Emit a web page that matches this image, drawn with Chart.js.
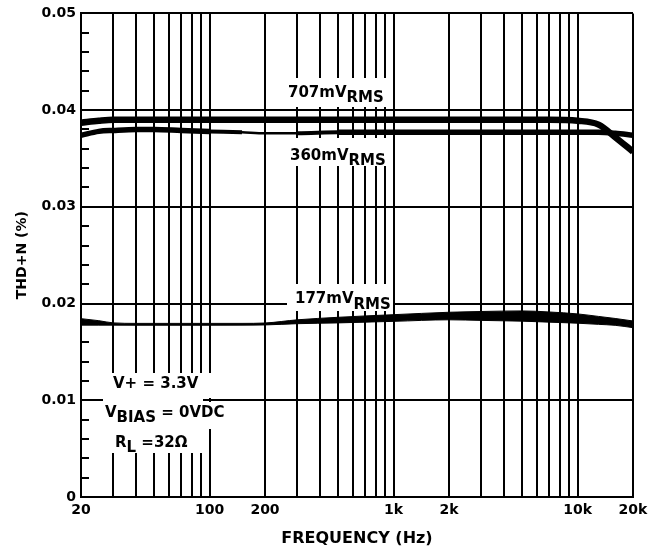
<!DOCTYPE html>
<html>
<head>
<meta charset="utf-8">
<script src="https://cdn.jsdelivr.net/npm/chart.js@4.4.1/dist/chart.umd.min.js"></script>
<style>
  html, body { margin: 0; padding: 0; background: #fff; }
  #wrap { width: 662px; height: 554px; }
</style>
</head>
<body>
<div id="wrap"><canvas id="thdChart"></canvas></div>
<script>
const freqs = [20, 25, 30, 40, 50, 70, 100, 150, 200, 300, 500, 700, 1000, 2000, 3000, 5000, 7000, 10000, 13000, 16000, 20000];

// THD+N (%) per output level
const thd707 = [0.0387, 0.0389, 0.0390, 0.0390, 0.0390, 0.0390, 0.0390, 0.0390, 0.0390, 0.0390, 0.0390, 0.0390, 0.0390, 0.0390, 0.0390, 0.0390, 0.0390, 0.0389, 0.0385, 0.0372, 0.0357];
const thd360 = [0.0374, 0.0378, 0.0379, 0.0380, 0.0380, 0.0379, 0.0378, 0.0377, 0.0376, 0.0376, 0.0377, 0.0377, 0.0377, 0.0377, 0.0377, 0.0377, 0.0377, 0.0377, 0.0377, 0.0376, 0.0374];
// 177mV trace is drawn as a band (its plotted width varies)
const thd177Upper = [0.01844, 0.01823, 0.01800, 0.01795, 0.01795, 0.01795, 0.01795, 0.01795, 0.01799, 0.01832, 0.01858, 0.01872, 0.01885, 0.01910, 0.01918, 0.01924, 0.01913, 0.01893, 0.01867, 0.01846, 0.01820];
const thd177Lower = [0.01777, 0.01777, 0.01777, 0.01776, 0.01776, 0.01776, 0.01776, 0.01777, 0.01779, 0.01792, 0.01800, 0.01808, 0.01816, 0.01832, 0.01826, 0.01818, 0.01808, 0.01797, 0.01785, 0.01775, 0.01751];

// axis ticks
const gridFreqs = [20, 30, 40, 50, 60, 70, 80, 90, 100, 200, 300, 400, 500, 600, 700, 800, 900,
                   1000, 2000, 3000, 4000, 5000, 6000, 7000, 8000, 9000, 10000, 20000];
const freqLabels = {20: '20', 100: '100', 200: '200', 1000: '1k', 2000: '2k', 10000: '10k', 20000: '20k'};
const thdMin = 0, thdMax = 0.05, thdStep = 0.002, thdMajor = 0.01;

const FONT = 'DejaVu Sans';
const toPoints = ys => freqs.map((f, i) => ({x: f, y: ys[i]}));
const isMajor = v => Math.abs(v / thdMajor - Math.round(v / thdMajor)) < 1e-6;

// width of the 360mV trace thins out around 150-300Hz
const width360 = ctx => {
    const a = ctx.p0.parsed.x, b = ctx.p1.parsed.x;
    if (a >= 150 && b <= 300) return 2.5;
    if (a >= 100 && b <= 500) return 4;
    return 5.5;
};

// white label boxes + text drawn on top of the grid
const curveLabels = {
    id: 'curveLabels',
    afterDatasetsDraw(chart) {
        const {ctx, chartArea, scales: {y}} = chart;
        ctx.save();

        // minor ticks inside the left axis
        ctx.strokeStyle = '#000';
        ctx.lineWidth = 2;
        y.ticks.forEach(t => {
            if (isMajor(t.value)) return;
            const py = Math.round(y.getPixelForValue(t.value));
            ctx.beginPath();
            ctx.moveTo(chartArea.left, py);
            ctx.lineTo(chartArea.left + 8, py);
            ctx.stroke();
        });

        ctx.fillStyle = '#fff';
        [[283, 78, 107, 29], [283, 138, 107, 28], [287, 284, 106, 27],
         [103, 373, 112, 25], [103, 397, 100, 6], [103, 402, 129, 27], [110, 429, 97, 24]]
            .forEach(b => ctx.fillRect(b[0], b[1], b[2], b[3]));

        ctx.fillStyle = '#000';
        ctx.font = 'bold 15px "' + FONT + '"';
        ctx.textBaseline = 'alphabetic';
        ctx.textAlign = 'left';
        const parts = (x, base, list) => {
            list.forEach(([txt, dy]) => {
                ctx.fillText(txt, x, base + dy);
                x += ctx.measureText(txt).width;
            });
        };
        parts(288, 97, [['707mV', 0], ['RMS', 5]]);
        parts(290, 160, [['360mV', 0], ['RMS', 5]]);
        parts(295, 303, [['177mV', 0], ['RMS', 6]]);
        parts(113, 388, [['V+ = 3.3V', 0]]);
        parts(105, 417, [['V', 0], ['BIAS', 5], [' = 0VDC', 0]]);
        parts(115, 447, [['R', 0], ['L', 5], [' =32\u03A9', 0]]);
        ctx.restore();
    }
};

new Chart(document.getElementById('thdChart'), {
    type: 'line',
    data: {
        datasets: [
            {
                label: '707mV',
                data: toPoints(thd707),
                borderColor: '#000',
                borderWidth: 6.5,
                cubicInterpolationMode: 'monotone'
            },
            {
                label: '360mV',
                data: toPoints(thd360),
                borderColor: '#000',
                borderWidth: 5.5,
                segment: { borderWidth: width360 },
                cubicInterpolationMode: 'monotone'
            },
            {
                label: '177mV low',
                data: toPoints(thd177Lower),
                borderColor: '#000',
                borderWidth: 1,
                cubicInterpolationMode: 'monotone'
            },
            {
                label: '177mV high',
                data: toPoints(thd177Upper),
                borderColor: '#000',
                borderWidth: 1,
                backgroundColor: '#000',
                fill: '-1',
                cubicInterpolationMode: 'monotone'
            }
        ]
    },
    options: {
        responsive: true,
        maintainAspectRatio: false,
        animation: false,
        elements: { point: { radius: 0 } },
        layout: { padding: { left: 0, right: 29, top: 13, bottom: 0 } },
        plugins: {
            legend: { display: false },
            tooltip: { enabled: false }
        },
        scales: {
            x: {
                type: 'logarithmic',
                min: 20,
                max: 20000,
                afterBuildTicks: scale => {
                    scale.ticks = gridFreqs.map(v => ({value: v}));
                },
                afterFit: scale => { scale.height = 57; },
                grid: { color: '#000', lineWidth: 2, drawTicks: false },
                border: { color: '#000', width: 2 },
                ticks: {
                    autoSkip: false,
                    maxRotation: 0,
                    padding: 5,
                    color: '#000',
                    font: { family: FONT, size: 14, weight: 'bold' },
                    callback: v => freqLabels[v] || ''
                },
                title: {
                    display: true,
                    text: 'FREQUENCY (Hz)',
                    color: '#000',
                    font: { family: FONT, size: 16, weight: 'bold' },
                    padding: { top: 0, bottom: 6 }
                }
            },
            y: {
                min: thdMin,
                max: thdMax,
                afterFit: scale => { scale.width = 81; },
                grid: {
                    color: ctx => isMajor(ctx.tick.value) ? '#000' : 'rgba(0,0,0,0)',
                    lineWidth: 2,
                    drawTicks: false
                },
                border: { color: '#000', width: 2 },
                ticks: {
                    stepSize: thdStep,
                    autoSkip: false,
                    padding: 5,
                    color: '#000',
                    font: { family: FONT, size: 14, weight: 'bold' },
                    callback: v => isMajor(v) ? (Math.abs(v) < 1e-9 ? '0' : v.toFixed(2)) : ''
                },
                title: {
                    display: true,
                    text: 'THD+N (%)',
                    color: '#000',
                    font: { family: FONT, size: 14, weight: 'bold' },
                    padding: { top: 14, bottom: 0 }
                }
            }
        }
    },
    plugins: [curveLabels]
});
</script>
</body>
</html>
